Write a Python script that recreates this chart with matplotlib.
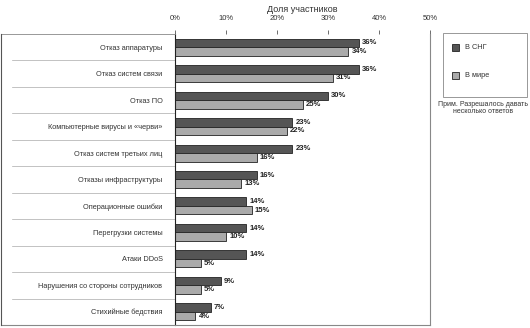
import matplotlib
matplotlib.use('Agg')
import matplotlib.pyplot as plt
from matplotlib.patches import Rectangle
from matplotlib.lines import Line2D

plt.rcParams['font.family'] = ['Liberation Sans Narrow', 'Liberation Sans', 'DejaVu Sans']

categories = ['Отказ аппаратуры', 'Отказ систем связи', 'Отказ ПО',
              'Компьютерные вирусы и «черви»', 'Отказ систем третьих лиц',
              'Отказы инфраструктуры', 'Операционные ошибки',
              'Перегрузки системы', 'Атаки DDoS',
              'Нарушения со стороны сотрудников', 'Стихийные бедствия']
cis = [36, 36, 30, 23, 23, 16, 14, 14, 14, 9, 7]
world = [34, 31, 25, 22, 16, 13, 15, 10, 5, 5, 4]
ticks = [0, 10, 20, 30, 40, 50]

W, H = 530, 328
fig = plt.figure(figsize=(W / 100, H / 100), dpi=100)
ax = fig.add_axes([175 / W, 1 - 325 / H, 255 / W, 291 / H])

n = len(categories)
ys = list(range(n))
bh = 0.32
ax.barh([y - bh / 2 for y in ys], cis, height=bh, color='#555555', edgecolor='#222222', linewidth=0.6)
ax.barh([y + bh / 2 for y in ys], world, height=bh, color='#aaaaaa', edgecolor='#222222', linewidth=0.6)
for y, a, b in zip(ys, cis, world):
    ax.text(a + 0.6, y - bh / 2, f'{a}%', va='center', ha='left', fontsize=5.5, fontweight='bold', color='#222222')
    ax.text(b + 0.6, y + bh / 2, f'{b}%', va='center', ha='left', fontsize=5.5, fontweight='bold', color='#222222')

ax.set_ylim(n - 0.5, -0.5)
ax.set_xlim(0, 50)
ax.xaxis.tick_top()
ax.set_xticks(ticks)
ax.set_xticklabels([f'{t}%' for t in ticks], fontsize=5.5, color='#333333')
ax.tick_params(axis='x', length=3, width=0.6, color='#555555', pad=6)
ax.set_yticks(ys)
ax.set_yticklabels(categories, fontsize=5.3, color='#333333')
ax.tick_params(axis='y', length=0, pad=9)
for s in ['top', 'bottom']:
    ax.spines[s].set_visible(False)
ax.spines['left'].set_color('#222222')
ax.spines['left'].set_linewidth(0.8)
ax.spines['right'].set_color('#888888')
ax.spines['right'].set_linewidth(0.8)
ax.set_title('Доля участников', fontsize=6.5, color='#333333', pad=16)

# separators in the label area
x0 = -(175 - 12) / 255
for k in range(1, n):
    ax.add_line(Line2D([x0, 0], [1 - k / n, 1 - k / n], transform=ax.transAxes,
                       color='#aaaaaa', linewidth=0.5, clip_on=False))

# outer frame
fig.add_artist(Line2D([1 / W, 175 / W], [1 - 34 / H, 1 - 34 / H], color='#888888', linewidth=0.6))
fig.add_artist(Line2D([1 / W, 430 / W], [1 - 325 / H, 1 - 325 / H], color='#888888', linewidth=0.8))
fig.add_artist(Line2D([1 / W, 1 / W], [1 - 34 / H, 1 - 325 / H], color='#555555', linewidth=0.8))

# legend box
fig.add_artist(Rectangle((443 / W, 1 - 97 / H), 84 / W, 64 / H, fill=False, edgecolor='#888888', linewidth=0.6))
fig.add_artist(Rectangle((452 / W, 1 - 51 / H), 7 / W, 7 / H, facecolor='#555555', edgecolor='#222222', linewidth=0.6))
fig.add_artist(Rectangle((452 / W, 1 - 79 / H), 7 / W, 7 / H, facecolor='#aaaaaa', edgecolor='#222222', linewidth=0.6))
fig.text(465 / W, 1 - 47.5 / H, 'В СНГ', fontsize=5.3, va='center', color='#333333')
fig.text(465 / W, 1 - 75.5 / H, 'В мире', fontsize=5.3, va='center', color='#333333')
fig.text(483 / W, 1 - 108 / H, 'Прим. Разрешалось давать\nнесколько ответов', fontsize=5,
         ha='center', va='center', color='#333333', linespacing=1.1)

fig.savefig('out.png', dpi=100)
